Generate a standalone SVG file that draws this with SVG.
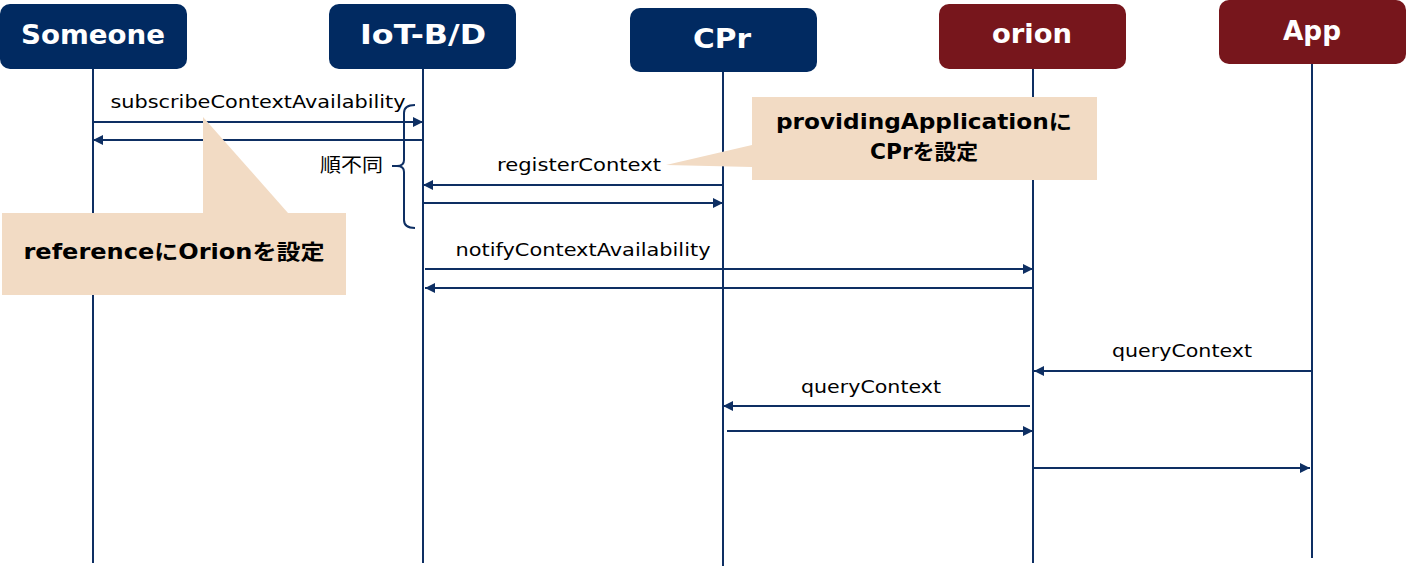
<svg xmlns="http://www.w3.org/2000/svg" width="1406" height="567" viewBox="0 0 1406 567">
<style>
.hdr{font-family:"DejaVu Sans","Liberation Sans",sans-serif;font-weight:bold;font-size:27px;fill:#ffffff;text-anchor:middle}
.navy{fill:#012a61}
.red{fill:#77161c}
.life{stroke:#0e2f63;stroke-width:2;fill:none}
.msg{stroke:#0e2f63;stroke-width:2;fill:none}
.lbl{font-family:"DejaVu Sans","Liberation Sans",sans-serif;font-size:17px;fill:#000000;text-anchor:middle}
.note{fill:#f2dbc4}
.ntxt{font-family:"DejaVu Sans","Noto Sans CJK JP",sans-serif;font-weight:bold;font-size:21px;fill:#000000;text-anchor:middle}
.cjk{font-family:"Noto Sans CJK JP",sans-serif;font-size:19px;fill:#000000}
</style>
<defs>
<marker id="ah" viewBox="0 0 10 10" refX="10" refY="5" markerWidth="10" markerHeight="10" markerUnits="userSpaceOnUse" orient="auto">
<path d="M0,0 L10,5 L0,10 z" fill="#0e2f63"/>
</marker>
</defs>
<rect width="1406" height="567" fill="#ffffff"/>

<g id="lifelines">
<line class="life" x1="93" y1="69" x2="93" y2="563"/>
<line class="life" x1="423" y1="69" x2="423" y2="563"/>
<line class="life" x1="723" y1="72" x2="723" y2="566"/>
<line class="life" x1="1033" y1="69" x2="1033" y2="563"/>
<line class="life" x1="1312" y1="64" x2="1312" y2="558"/>
</g>

<g id="node-someone">
<rect class="navy" x="0" y="4" width="187" height="65" rx="10"/>
<text class="hdr" x="93" y="44" textLength="144" lengthAdjust="spacingAndGlyphs">Someone</text>
</g>
<g id="node-iot">
<rect class="navy" x="329" y="4" width="187" height="65" rx="10"/>
<text class="hdr" x="423" y="44" textLength="126" lengthAdjust="spacingAndGlyphs">IoT-B/D</text>
</g>
<g id="node-cpr">
<rect class="navy" x="630" y="8" width="187" height="64" rx="10"/>
<text class="hdr" x="722" y="48" textLength="58" lengthAdjust="spacingAndGlyphs">CPr</text>
</g>
<g id="node-orion">
<rect class="red" x="939" y="4" width="187" height="65" rx="10"/>
<text class="hdr" x="1032" y="43" textLength="80" lengthAdjust="spacingAndGlyphs">orion</text>
</g>
<g id="node-app">
<rect class="red" x="1219" y="0" width="187" height="64" rx="10"/>
<text class="hdr" x="1312" y="40" textLength="58" lengthAdjust="spacingAndGlyphs">App</text>
</g>

<g id="connectors">
<line class="msg" x1="93" y1="122" x2="423" y2="122" marker-end="url(#ah)"/>
<line class="msg" x1="423" y1="140" x2="93" y2="140" marker-end="url(#ah)"/>
<line class="msg" x1="723" y1="185" x2="423" y2="185" marker-end="url(#ah)"/>
<line class="msg" x1="423" y1="203" x2="723" y2="203" marker-end="url(#ah)"/>
<line class="msg" x1="425" y1="269" x2="1033" y2="269" marker-end="url(#ah)"/>
<line class="msg" x1="1033" y1="288" x2="425" y2="288" marker-end="url(#ah)"/>
<line class="msg" x1="1312" y1="371" x2="1034" y2="371" marker-end="url(#ah)"/>
<line class="msg" x1="1030" y1="406" x2="723" y2="406" marker-end="url(#ah)"/>
<line class="msg" x1="727" y1="431" x2="1033" y2="431" marker-end="url(#ah)"/>
<line class="msg" x1="1033" y1="468" x2="1310" y2="468" marker-end="url(#ah)"/>
<path class="msg" d="M415,105 Q404,105 404,113 L404,160 Q404,166 397,166 L392,166 M397,166 Q404,166 404,172 L404,220 Q404,228 415,228"/>
</g>

<g id="labels">
<text class="lbl" x="258" y="108" textLength="295" lengthAdjust="spacingAndGlyphs">subscribeContextAvailability</text>
<text class="lbl" x="579" y="171" textLength="164" lengthAdjust="spacingAndGlyphs">registerContext</text>
<text class="lbl" x="583" y="256" textLength="255" lengthAdjust="spacingAndGlyphs">notifyContextAvailability</text>
<text class="lbl" x="1182" y="357" textLength="140" lengthAdjust="spacingAndGlyphs">queryContext</text>
<text class="lbl" x="871" y="393" textLength="140" lengthAdjust="spacingAndGlyphs">queryContext</text>
<text class="cjk" x="320" y="172" textLength="63" lengthAdjust="spacingAndGlyphs">順不同</text>
</g>

<g id="note-reference">
<polygon class="note" points="203,117 288,213 203,213"/>
<rect class="note" x="2" y="213" width="344" height="82"/>
<text class="ntxt" x="174" y="259" textLength="301" lengthAdjust="spacingAndGlyphs">referenceにOrionを設定</text>
</g>

<g id="note-providing">
<polygon class="note" points="666,165 752,145 752,167"/>
<rect class="note" x="752" y="97" width="345" height="83"/>
<text class="ntxt" x="924" y="129" textLength="296" lengthAdjust="spacingAndGlyphs">providingApplicationに</text>
<text class="ntxt" x="924" y="159" textLength="108" lengthAdjust="spacingAndGlyphs">CPrを設定</text>
</g>
</svg>
